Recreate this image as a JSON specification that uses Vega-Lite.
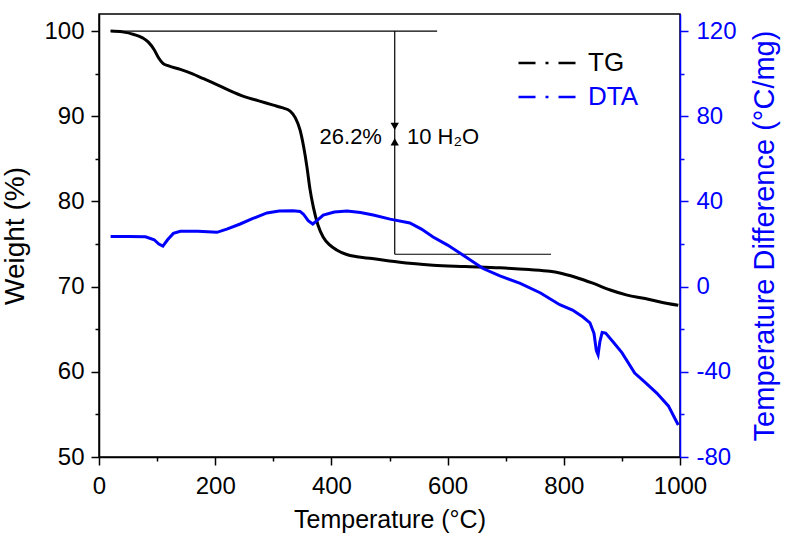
{
  "$schema": "https://vega.github.io/schema/vega-lite/v6.json",
  "width": 581,
  "height": 443,
  "autosize": "none",
  "padding": {"left": 99, "top": 14, "right": 107, "bottom": 81},
  "background": "white",
  "config": {
    "font": "Liberation Sans",
    "view": {"stroke": "black", "strokeWidth": 1.5},
    "axis": {"grid": false, "labelFlush": false, "labelOverlap": false, "labelBound": false, "titleFontWeight": "normal", "domainWidth": 1.5, "tickWidth": 1.5}
  },
  "datasets": {
    "tg": [
      {"t": 20, "w": 100, "series": "TG"}, {"t": 40, "w": 99.9, "series": "TG"}, {"t": 60, "w": 99.6, "series": "TG"},
      {"t": 75, "w": 99.2, "series": "TG"}, {"t": 85, "w": 98.7, "series": "TG"}, {"t": 95, "w": 97.8, "series": "TG"},
      {"t": 103, "w": 96.8, "series": "TG"}, {"t": 110, "w": 96.2, "series": "TG"}, {"t": 120, "w": 95.9, "series": "TG"},
      {"t": 140, "w": 95.5, "series": "TG"}, {"t": 160, "w": 95.0, "series": "TG"}, {"t": 180, "w": 94.4, "series": "TG"},
      {"t": 200, "w": 93.8, "series": "TG"}, {"t": 225, "w": 93.0, "series": "TG"}, {"t": 250, "w": 92.3, "series": "TG"},
      {"t": 275, "w": 91.8, "series": "TG"}, {"t": 300, "w": 91.3, "series": "TG"}, {"t": 315, "w": 91.0, "series": "TG"},
      {"t": 329, "w": 90.6, "series": "TG"}, {"t": 338, "w": 89.8, "series": "TG"}, {"t": 346, "w": 88.4, "series": "TG"},
      {"t": 352, "w": 86.5, "series": "TG"}, {"t": 358, "w": 84.0, "series": "TG"}, {"t": 363, "w": 81.5, "series": "TG"},
      {"t": 369, "w": 79.3, "series": "TG"}, {"t": 377, "w": 77.2, "series": "TG"}, {"t": 386, "w": 75.8, "series": "TG"},
      {"t": 397, "w": 74.9, "series": "TG"}, {"t": 409, "w": 74.3, "series": "TG"}, {"t": 425, "w": 73.8, "series": "TG"},
      {"t": 444, "w": 73.5, "series": "TG"}, {"t": 470, "w": 73.3, "series": "TG"}, {"t": 500, "w": 73.0, "series": "TG"},
      {"t": 540, "w": 72.7, "series": "TG"}, {"t": 575, "w": 72.5, "series": "TG"}, {"t": 630, "w": 72.35, "series": "TG"},
      {"t": 690, "w": 72.2, "series": "TG"}, {"t": 740, "w": 72.0, "series": "TG"}, {"t": 776, "w": 71.8, "series": "TG"},
      {"t": 793, "w": 71.6, "series": "TG"}, {"t": 820, "w": 71.1, "series": "TG"}, {"t": 850, "w": 70.4, "series": "TG"},
      {"t": 880, "w": 69.6, "series": "TG"}, {"t": 909, "w": 69.0, "series": "TG"}, {"t": 940, "w": 68.6, "series": "TG"},
      {"t": 966, "w": 68.2, "series": "TG"}, {"t": 997, "w": 67.8, "series": "TG"}
    ],
    "dta": [
      {"t": 20, "d": 23.5, "series": "DTA"}, {"t": 50, "d": 23.5, "series": "DTA"}, {"t": 80, "d": 23.4, "series": "DTA"},
      {"t": 95, "d": 22, "series": "DTA"}, {"t": 103, "d": 20, "series": "DTA"}, {"t": 110, "d": 19, "series": "DTA"},
      {"t": 118, "d": 22, "series": "DTA"}, {"t": 128, "d": 25, "series": "DTA"}, {"t": 140, "d": 26, "series": "DTA"},
      {"t": 170, "d": 26, "series": "DTA"}, {"t": 203, "d": 25.5, "series": "DTA"}, {"t": 220, "d": 27, "series": "DTA"},
      {"t": 243, "d": 29.4, "series": "DTA"}, {"t": 265, "d": 32, "series": "DTA"}, {"t": 289, "d": 34.6, "series": "DTA"},
      {"t": 310, "d": 35.5, "series": "DTA"}, {"t": 334, "d": 35.6, "series": "DTA"}, {"t": 346, "d": 35.3, "series": "DTA"},
      {"t": 352, "d": 34, "series": "DTA"}, {"t": 360, "d": 31, "series": "DTA"}, {"t": 368, "d": 29.4, "series": "DTA"},
      {"t": 375, "d": 31, "series": "DTA"}, {"t": 386, "d": 33.6, "series": "DTA"}, {"t": 405, "d": 35, "series": "DTA"},
      {"t": 427, "d": 35.5, "series": "DTA"}, {"t": 450, "d": 34.8, "series": "DTA"}, {"t": 472, "d": 33.6, "series": "DTA"},
      {"t": 501, "d": 31.7, "series": "DTA"}, {"t": 535, "d": 29.9, "series": "DTA"}, {"t": 555, "d": 27, "series": "DTA"},
      {"t": 575, "d": 23.3, "series": "DTA"}, {"t": 600, "d": 19.5, "series": "DTA"}, {"t": 621, "d": 15.8, "series": "DTA"},
      {"t": 661, "d": 8.5, "series": "DTA"}, {"t": 690, "d": 5, "series": "DTA"}, {"t": 725, "d": 1.5, "series": "DTA"},
      {"t": 760, "d": -3, "series": "DTA"}, {"t": 793, "d": -8.5, "series": "DTA"}, {"t": 815, "d": -11, "series": "DTA"},
      {"t": 833, "d": -14.3, "series": "DTA"}, {"t": 845, "d": -17, "series": "DTA"}, {"t": 852, "d": -22, "series": "DTA"},
      {"t": 856, "d": -30, "series": "DTA"}, {"t": 859, "d": -32, "series": "DTA"}, {"t": 862, "d": -26, "series": "DTA"},
      {"t": 866, "d": -21.5, "series": "DTA"}, {"t": 872, "d": -21.8, "series": "DTA"}, {"t": 885, "d": -26, "series": "DTA"},
      {"t": 900, "d": -31, "series": "DTA"}, {"t": 922, "d": -40.6, "series": "DTA"}, {"t": 940, "d": -45, "series": "DTA"},
      {"t": 960, "d": -50, "series": "DTA"}, {"t": 980, "d": -56, "series": "DTA"}, {"t": 997, "d": -65, "series": "DTA"}
    ],
    "hlines": [
      {"x1": 20, "x2": 582, "y": 100},
      {"x1": 509, "x2": 778, "y": 73.8}
    ],
    "vline": [{"x": 509, "y1": 100, "y2": 73.8}],
    "arrows": [
      {"x": 509, "y": 88.8, "dir": "down"},
      {"x": 509, "y": 87.0, "dir": "up"}
    ],
    "labelLeft": [{"x": 487, "y": 87.6, "text": "26.2%"}],
    "labelRight": [{"x": 530, "y": 87.6, "text": "10 H₂O"}]
  },
  "layer": [
    {
      "layer": [
        {
          "data": {"name": "tg"},
          "mark": {"type": "line", "strokeWidth": 3, "interpolate": "monotone"},
          "encoding": {
            "x": {
              "field": "t", "type": "quantitative",
              "scale": {"domain": [0, 1000], "nice": false},
              "axis": {
                "title": "Temperature (°C)",
                "values": [0, 100, 200, 300, 400, 500, 600, 700, 800, 900, 1000],
                "labelExpr": "datum.value % 200 === 0 ? datum.label : ''",
                "format": "d",
                "tickSize": {"condition": {"test": "datum.value % 200 === 0", "value": 8}, "value": 4},
                "labelFontSize": 24, "titleFontSize": 25,
                "labelPadding": 9, "titlePadding": 9,
                "domainColor": "black", "tickColor": "black", "labelColor": "black", "titleColor": "black"
              }
            },
            "y": {
              "field": "w", "type": "quantitative",
              "scale": {"domain": [50, 102], "nice": false, "zero": false},
              "axis": {
                "title": "Weight (%)",
                "values": [50, 55, 60, 65, 70, 75, 80, 85, 90, 95, 100],
                "labelExpr": "datum.value % 10 === 0 ? datum.label : ''",
                "format": "d",
                "tickSize": {"condition": {"test": "datum.value % 10 === 0", "value": 8}, "value": 4},
                "labelFontSize": 24, "titleFontSize": 28,
                "labelPadding": 7, "titlePadding": 14,
                "domainColor": "black", "tickColor": "black", "labelColor": "black", "titleColor": "black"
              }
            },
            "color": {
              "field": "series", "type": "nominal",
              "scale": {"domain": ["TG", "DTA"], "range": ["#000000", "#0000ff"]},
              "legend": {
                "title": null, "orient": "none", "legendX": 418, "legendY": 34,
                "symbolType": "stroke", "symbolSize": 3600, "symbolStrokeWidth": 2.5,
                "symbolDash": [17, 10, 3, 10], "clipHeight": 30, "rowPadding": 4,
                "labelFontSize": 26, "labelOffset": 8, "padding": 0,
                "encode": {"labels": {"update": {"fill": {"signal": "datum.value === 'DTA' ? '#0000ff' : '#000000'"}}}}
              }
            }
          }
        },
        {
          "data": {"name": "hlines"},
          "mark": {"type": "rule", "color": "black", "strokeWidth": 1.2},
          "encoding": {
            "x": {"field": "x1", "type": "quantitative"},
            "x2": {"field": "x2"},
            "y": {"field": "y", "type": "quantitative"}
          }
        },
        {
          "data": {"name": "vline"},
          "mark": {"type": "rule", "color": "black", "strokeWidth": 1.2},
          "encoding": {
            "x": {"field": "x", "type": "quantitative"},
            "y": {"field": "y1", "type": "quantitative"},
            "y2": {"field": "y2"}
          }
        },
        {
          "data": {"name": "arrows"},
          "mark": {"type": "point", "filled": true, "color": "black", "size": 70, "opacity": 1},
          "encoding": {
            "x": {"field": "x", "type": "quantitative"},
            "y": {"field": "y", "type": "quantitative"},
            "shape": {"field": "dir", "type": "nominal", "scale": {"domain": ["down", "up"], "range": ["triangle-down", "triangle-up"]}, "legend": null}
          }
        },
        {
          "data": {"name": "labelLeft"},
          "mark": {"type": "text", "fontSize": 22, "color": "black", "baseline": "middle", "align": "right"},
          "encoding": {
            "x": {"field": "x", "type": "quantitative"},
            "y": {"field": "y", "type": "quantitative"},
            "text": {"field": "text"}
          }
        },
        {
          "data": {"name": "labelRight"},
          "mark": {"type": "text", "fontSize": 22, "color": "black", "baseline": "middle", "align": "left"},
          "encoding": {
            "x": {"field": "x", "type": "quantitative"},
            "y": {"field": "y", "type": "quantitative"},
            "text": {"field": "text"}
          }
        }
      ]
    },
    {
      "data": {"name": "dta"},
      "mark": {"type": "line", "strokeWidth": 3, "interpolate": "linear"},
      "encoding": {
        "x": {"field": "t", "type": "quantitative"},
        "y": {
          "field": "d", "type": "quantitative",
          "scale": {"domain": [-80, 128], "nice": false, "zero": false},
          "axis": {
            "orient": "right",
            "title": "Temperature Difference (°C/mg)",
            "titleAngle": 270, "titleBaseline": "top",
            "values": [-80, -60, -40, -20, 0, 20, 40, 60, 80, 100, 120],
            "labelExpr": "datum.value % 40 === 0 ? replace(datum.label, '−', '-') : ''",
            "format": "d",
            "tickSize": {"condition": {"test": "datum.value % 40 === 0", "value": 8}, "value": 4},
            "labelFontSize": 24, "titleFontSize": 29,
            "labelPadding": 8, "titlePadding": 14,
            "domainColor": "#0000ff", "tickColor": "#0000ff", "labelColor": "#0000ff", "titleColor": "#0000ff"
          }
        },
        "color": {"field": "series", "type": "nominal"}
      }
    }
  ],
  "resolve": {"scale": {"y": "independent"}}
}
